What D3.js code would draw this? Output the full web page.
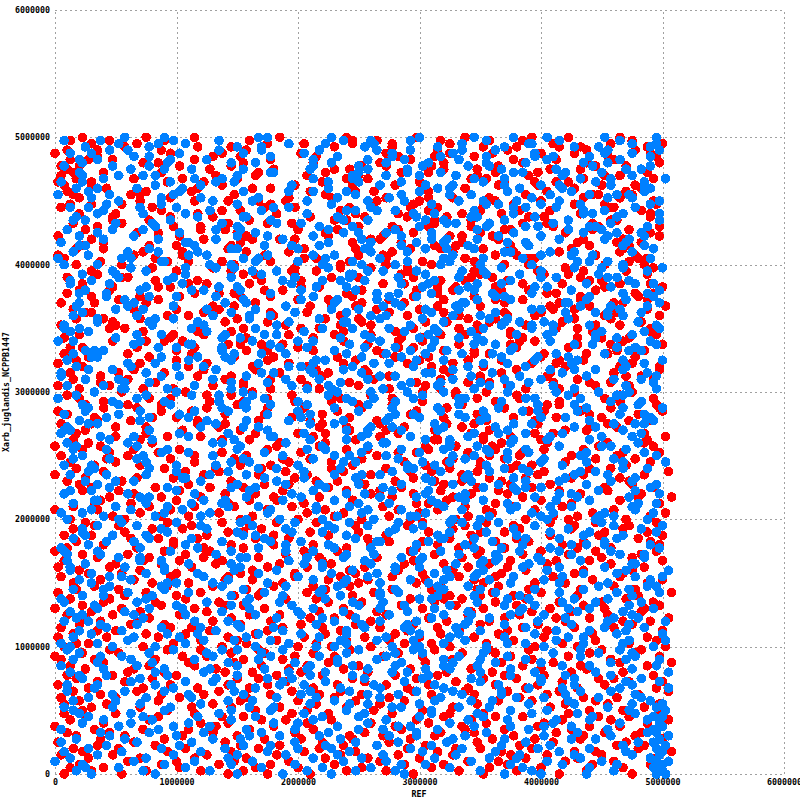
<!DOCTYPE html>
<meta charset="utf-8">
<style>
body { margin: 0; background: #fff; }
text { font: bold 8.3px "DejaVu Sans Mono", monospace; fill: #000; }
.axis line { stroke: #a0a0a0; stroke-dasharray: 2,3; shape-rendering: crispEdges; }
.dots circle { shape-rendering: crispEdges; }
</style>
<svg width="800" height="800"></svg>
<script src="https://d3js.org/d3.v7.min.js"></script>
<script>

var xTicks = [0, 1000000, 2000000, 3000000, 4000000, 5000000, 6000000];
var yTicks = [0, 1000000, 2000000, 3000000, 4000000, 5000000, 6000000];
var xTitle = "REF";
var yTitle = "Xarb_juglandis_NCPPB1447";

// one row per 25 kb of the y axis (row 0 = 0), values are x positions in 25 kb units
var step = 25000;

var redRows = [
  [3,118,57,190,84,141,22,201,166,70],[96,12,175,48,133,62,199,109,30,152],[187,41,5,124,80,160,101,16,143,66],
  [54,149,92,8,177,115,35,196,71,128],[136,24,168,77,0,107,59,184,146,40],[11,89,198,63,120,155,28,172,46,103],
  [162,50,131,2,94,19,180,73,113,150],[37,178,82,147,58,126,9,203,99,171],[116,67,21,192,140,43,87,157,6,132],
  [74,153,106,33,185,14,122,61,194,95],[1,129,45,164,88,110,188,26,139,56],[173,98,15,144,69,36,200,117,81,158],
  [42,191,125,60,7,151,97,174,23,108],[138,18,79,181,52,102,165,4,127,193],[64,114,170,29,148,85,13,197,44,135],
  [186,53,93,134,0,159,72,39,112,176],[25,161,57,104,195,16,142,83,123,48],[119,5,183,68,137,91,31,167,202,76],
  [55,145,34,100,10,179,128,62,154,189],[90,199,111,20,169,46,78,141,3,130],[9,66,150,187,37,105,121,176,83,201],
  [143,28,96,58,163,12,194,74,131,45],[107,182,3,139,86,52,120,17,168,199],[61,34,157,115,196,80,8,146,99,178],
  [174,92,20,127,63,185,41,153,110,2],[35,138,71,192,15,101,162,49,124,87],[118,6,166,54,149,27,94,202,78,135],
  [198,47,85,11,116,172,64,136,29,155],[70,159,123,38,181,93,1,109,145,57],[14,102,189,76,43,132,167,23,200,89],
  [152,60,32,179,98,7,141,119,67,184],[40,197,112,148,19,73,161,88,126,4],[129,24,81,56,170,103,187,36,144,65],
  [95,175,10,137,53,190,117,77,26,160],[5,83,154,100,31,68,128,195,46,173],[186,122,44,16,147,90,59,164,114,203],
  [62,13,140,183,75,106,33,157,2,131],[108,169,50,92,0,121,199,42,79,150],[21,145,85,113,191,58,9,176,134,69],
  [156,37,193,67,125,18,97,143,48,180],
  // 1 Mb
  [80,3,130,172,55,104,29,201,158,91],[11,115,63,189,142,39,86,167,7,124],[198,48,96,24,151,73,178,110,135,60],
  [34,161,1,120,82,195,57,138,17,102],[146,89,177,43,112,6,66,185,127,30],[70,20,133,94,162,51,200,14,149,116],
  [184,107,38,154,75,126,2,171,88,45],[25,140,190,61,8,99,159,36,118,81],[129,52,15,168,104,187,71,143,27,196],
  [92,176,123,31,148,58,10,165,84,202],[4,64,109,182,41,136,153,19,97,74],[157,28,87,137,193,12,116,50,170,106],
  [46,194,69,22,121,163,95,0,141,181],[114,9,152,78,35,199,132,62,174,56],[180,101,33,166,90,16,125,145,54,197],
  [18,134,76,117,5,155,43,188,86,128],[140,59,192,40,172,98,130,23,67,151],[68,1,113,160,83,48,203,144,105,30],
  [173,124,21,89,139,191,63,7,156,111],[37,85,184,127,13,72,146,97,179,52],[100,158,44,6,195,119,32,168,75,141],
  [200,26,138,65,103,15,177,90,56,122],[57,145,94,186,38,164,2,133,111,79],[11,79,171,22,147,61,121,187,40,99],
  [131,190,60,113,8,97,155,28,174,65],[83,18,102,149,194,45,70,136,1,166],[162,115,35,74,128,183,20,91,53,143],
  [29,176,88,200,55,3,150,118,165,41],[106,49,159,14,87,134,190,67,31,180],[193,139,9,125,43,169,76,105,154,24],
  [51,93,178,36,160,117,0,140,82,198],[148,4,119,62,183,27,96,172,49,133],[16,167,72,104,137,199,39,58,126,85],
  [121,39,196,145,17,81,156,110,7,174],[77,130,25,185,66,152,103,34,192,47],[3,109,163,50,90,12,137,179,72,200],
  [181,57,84,123,148,195,23,100,140,62],[42,153,6,170,32,112,187,68,131,92],[135,21,99,64,189,45,151,13,116,171],
  [86,198,142,10,121,73,163,37,55,178],
  // 2 Mb
  [23,117,61,188,101,155,5,132,80,169],[164,44,136,92,19,172,65,196,110,35],[2,95,177,54,144,120,28,83,157,201],
  [126,70,14,158,38,89,184,113,0,142],[59,190,108,31,167,6,135,78,151,46],[145,13,82,123,199,57,100,170,25,119],
  [98,160,40,73,129,186,15,141,64,176],[18,131,192,48,87,111,154,35,203,72],[173,66,3,149,104,26,193,118,56,137],
  [41,182,96,21,166,75,127,9,146,107],[114,33,157,139,51,197,62,90,181,12],[69,150,8,102,175,128,44,163,77,190],
  [189,86,125,58,22,147,112,4,134,93],[27,10,170,79,118,186,39,143,100,155],[134,104,49,194,67,0,159,83,30,174],
  [76,161,117,16,139,95,202,54,124,43],[7,53,183,130,91,176,36,109,150,68],[152,122,28,71,157,13,98,188,61,140],
  [91,196,140,46,5,115,168,77,20,129],[38,75,101,178,148,59,131,17,191,84],[170,143,63,24,106,185,2,153,92,46],
  [55,18,154,119,187,34,81,136,113,199],[123,96,9,161,41,70,174,103,145,26],[0,179,132,87,61,144,122,197,15,73],
  [194,32,74,147,11,108,52,162,182,89],[64,126,195,55,99,160,28,125,6,141],[141,48,20,107,180,85,150,37,117,201],
  [30,164,89,137,7,194,66,113,80,158],[109,3,168,42,125,61,143,10,175,97],[185,87,115,176,30,134,20,96,54,171],
  [47,138,56,12,88,182,107,159,129,2],[158,25,106,142,67,14,189,47,84,196],[13,180,40,97,151,120,78,32,165,128],
  [117,69,192,21,112,176,4,139,56,88],[80,156,1,173,45,93,161,119,200,35],[199,101,129,82,183,27,50,70,148,16],
  [35,10,166,134,60,100,198,162,24,111],[166,145,79,51,16,147,121,91,186,62],[94,197,38,111,153,70,31,181,8,139],
  [50,78,152,186,92,4,169,58,132,104],
  // 3 Mb
  [132,22,91,43,171,121,142,13,190,65],[8,166,127,71,198,39,87,110,155,29],[178,52,18,149,100,83,189,62,122,1],
  [62,119,183,33,136,164,15,176,97,143],[105,6,71,197,24,127,56,140,81,172],[15,188,140,88,58,110,193,35,162,47],
  [147,36,103,163,5,74,130,21,90,184],[86,128,49,26,178,152,66,102,199,11],[199,65,168,118,83,9,141,186,44,124],
  [28,95,1,157,131,190,50,77,116,165],[120,174,136,70,40,99,166,7,147,58],[72,11,112,191,14,59,123,160,31,93],
  [161,143,45,96,175,138,24,108,182,3],[40,63,185,128,106,16,194,85,138,70],[191,113,27,5,152,80,46,169,9,118],
  [57,183,75,150,68,172,103,133,61,200],[113,30,158,36,121,42,187,19,95,153],[3,85,121,172,189,114,63,154,180,38],
  [150,135,8,104,49,198,92,39,127,77],[95,47,196,139,29,150,11,177,58,112],[18,172,62,81,165,23,133,118,196,87],
  [139,104,178,20,94,186,76,2,155,47],[70,193,31,143,129,56,122,167,19,101],[183,16,100,60,7,136,171,89,145,28],
  [44,149,133,116,181,94,37,199,72,158],[128,83,49,12,148,71,160,10,110,185],[6,120,164,195,40,106,26,133,171,54],
  [163,59,91,99,126,176,201,52,84,140],[101,187,13,148,66,2,115,184,30,166],[21,34,128,173,110,145,80,154,195,90],
  [173,98,71,28,192,41,138,12,118,61],[54,162,197,126,59,165,96,191,46,4],[119,8,147,69,18,101,178,75,156,131],
  [81,126,38,181,87,132,19,145,34,200],[196,50,115,44,167,64,154,108,186,9],[33,176,81,135,5,180,47,127,68,149],
  [144,91,4,97,137,24,118,173,100,22],[66,140,169,14,79,195,62,20,161,114],[12,116,58,159,188,86,174,138,40,78],
  [180,25,104,79,52,116,32,94,197,168],
  // 4 Mb
  [94,156,22,194,124,7,148,59,109,181],[37,71,138,55,176,97,121,189,15,44],[156,192,86,109,33,158,3,82,135,195],
  [108,1,178,145,100,69,191,42,26,152],[24,131,42,63,151,29,111,166,186,77],[187,82,117,170,16,141,57,99,7,127],
  [58,176,9,31,125,189,87,132,150,40],[134,44,155,98,193,61,16,172,114,185],[79,107,65,187,74,12,174,146,49,104],
  [1,144,199,130,41,108,134,63,182,90],[168,60,27,89,140,168,34,118,196,14],[113,189,148,48,10,93,150,80,56,177],
  [48,14,111,164,179,39,123,199,100,137],[154,125,78,22,57,177,6,162,143,70],[92,169,183,137,96,125,64,31,185,19],
  [19,38,52,116,156,84,196,102,129,161],[196,99,134,73,20,47,147,173,8,113],[61,153,16,193,123,163,94,55,140,35],
  [126,2,97,155,69,32,184,117,183,79],[5,118,171,12,181,141,71,22,151,198],[145,76,57,106,46,120,197,160,67,28],
  [77,186,123,38,143,8,109,91,174,131],[177,28,6,179,89,155,59,137,25,190],[30,105,162,84,4,188,123,45,99,149],
  [121,167,47,122,171,71,17,193,135,65],[3,55,191,146,112,98,159,79,12,180],[165,12,88,1,148,169,37,120,158,49],
  [42,137,142,197,60,26,103,174,7,96],[100,181,2,66,132,186,53,156,83,139],[6,89,123,159,35,114,195,16,145,67],
  [188,4,173,97,92,139,72,128,51,163],[2,146,58,109,188,8,41,178,101,124],[9,62,107,29,154,175,128,85,199,34],
  [133,5,19,184,71,117,151,46,165,11],[52,113,198,138,14,61,93,182,125,86],[171,0,81,55,109,160,196,130,38,144],
  [14,149,35,175,126,4,87,63,191,117],[111,195,166,92,47,141,173,23,152,58],[82,27,130,12,183,98,111,164,70,200],
  [143,98,5,127,64,190,36,154,106,18],[30,186,157,74,119,46,169,9,96,135]
];

var blueRows = [
  [12,60,148,198,33,91,175,115,201,75,160],[140,29,83,200,112,51,184,7,157,99],[68,197,21,130,176,43,104,154,88,10,199],
  [185,114,58,9,150,79,200,36,122,167],[26,162,95,137,198,65,0,109,180,46,202],[101,5,173,57,125,143,85,196,30,152],
  [153,76,39,190,14,108,132,60,199,93,171],[48,121,166,97,200,22,145,70,188,3],[176,35,91,11,134,198,56,159,117,80],
  [89,147,17,124,71,187,106,41,201,163,62],[2,99,192,155,45,129,79,27,197,113],[131,61,23,178,94,7,148,199,52,170],
  [64,183,110,40,161,135,18,87,202,119,74],[195,15,142,119,68,90,172,49,198,31],[34,108,79,2,156,197,126,63,182,100],
  [117,170,51,138,21,113,200,93,39,150,161],[80,9,186,72,103,164,44,130,199,25],[165,136,32,195,58,16,85,176,109,149],
  [11,88,120,47,177,141,197,66,29,200,100],[139,54,191,102,25,82,157,8,124,172],[58,124,6,162,96,150,36,189,201,71],
  [182,38,72,114,133,3,64,111,143,198,19],[97,156,103,28,190,48,120,171,84,200],[20,196,144,65,6,169,92,137,57,125],
  [127,73,11,179,45,107,152,30,193,86,161],[44,103,168,134,81,191,19,62,113,147],[173,23,59,97,147,119,4,84,183,36,131],
  [107,167,186,13,66,39,128,156,94,202],[33,82,125,146,4,171,58,105,14,190,74],[188,140,43,75,115,89,199,25,160,52],
  [70,9,160,28,193,53,137,78,121,171,102],[150,183,84,123,37,8,98,168,60,17],[5,116,33,158,89,140,178,49,202,111,77],
  [122,51,190,69,16,103,150,130,83,36],[84,176,98,2,128,167,27,60,139,198,112],[160,32,131,57,183,79,14,114,93,145],
  [25,93,199,140,106,155,67,46,188,6,128],[109,149,15,87,52,133,191,22,71,173],[190,68,112,31,164,8,96,141,121,50,179],
  [55,4,142,173,75,118,39,186,60,100],
  // 1 Mb
  [142,120,66,19,197,92,161,5,86,33,111],[2,187,96,149,43,128,77,174,14,155],[118,59,24,106,165,135,189,71,49,201,94],
  [169,87,174,41,6,63,148,109,26,130],[47,12,133,200,81,158,37,185,120,96,67],[96,165,75,117,53,22,188,140,8,176],
  [181,132,35,61,102,194,72,115,155,17,48],[15,101,189,148,135,86,27,60,170,116],[136,46,107,11,182,57,119,159,201,92,3],
  [73,192,143,88,29,168,99,7,124,184],[110,26,161,128,66,43,137,190,81,9,150],[187,80,5,172,116,95,23,153,55,136],
  [31,154,85,197,42,125,176,64,14,107,169],[148,115,58,13,158,189,100,40,130,78],[63,3,178,108,74,139,27,167,98,193,50],
  [124,171,30,149,2,64,120,89,156,182],[9,94,126,190,153,32,75,107,16,138,58],[166,44,113,69,185,107,145,24,199,87],
  [88,140,16,36,128,174,6,158,62,112,189],[198,76,179,126,93,55,35,195,136,18],[40,107,52,166,12,95,150,70,182,123,37],
  [128,196,96,85,161,8,117,143,25,57],[22,18,138,151,49,130,191,80,103,167,200],[174,125,67,30,106,185,47,12,139,91],
  [59,162,188,112,141,73,5,129,202,36,98],[112,36,5,181,23,154,88,166,120,61],[191,88,156,58,82,10,140,44,190,104,132],
  [35,145,120,141,173,102,28,77,4,160],[146,61,28,95,121,194,63,114,159,83,21],[4,105,170,194,53,133,15,186,96,145],
  [85,153,76,14,183,38,118,58,166,127,3],[163,2,138,104,67,147,199,92,28,47],[119,181,43,170,11,90,135,175,76,154,196],
  [17,71,106,55,144,26,81,123,181,107],[155,127,185,128,99,166,6,45,69,138,31],[66,30,62,10,187,126,152,96,19,174],
  [198,176,110,142,37,60,78,163,130,9,88],[92,50,193,76,118,9,169,35,151,112],[27,139,14,158,90,184,48,103,200,65,121],
  [134,97,130,40,61,113,146,180,22,79],
  // 2 Mb
  [74,21,162,88,195,131,4,63,140,178,105],[179,117,48,184,119,16,93,33,160,143],[9,164,101,2,51,157,181,122,70,197,36],
  [103,86,191,134,25,71,42,150,114,12],[152,37,67,163,97,190,128,20,86,170,57],[45,192,126,100,149,6,55,110,198,30],
  [124,56,14,49,176,141,92,165,13,75,135],[28,133,172,119,81,31,107,189,63,158],[170,3,102,78,135,166,46,24,122,96,199],
  [64,111,40,191,12,123,179,85,152,5],[196,151,155,58,160,89,18,141,37,108,66],[14,76,87,146,114,60,131,198,100,175],
  [137,190,20,26,183,166,73,10,48,155,124],[82,43,135,168,42,99,151,122,191,69],[51,101,63,107,5,182,30,171,136,92,17],
  [156,173,178,82,127,143,11,57,111,40],[31,13,118,154,94,73,195,67,148,116,187],[116,125,53,12,167,116,40,142,80,3],
  [187,64,95,130,30,201,160,99,58,175,121],[6,184,149,62,113,18,85,135,27,161],[97,138,29,92,52,131,173,109,198,9,75],
  [149,35,194,175,143,69,44,156,120,101],[60,114,128,17,89,155,6,188,83,37,142],[183,88,7,139,180,103,61,27,166,130],
  [24,55,150,52,108,192,130,76,4,109,192],[130,162,96,122,32,84,176,151,59,18],[71,26,180,190,72,15,117,136,101,163,44],
  [167,146,41,103,155,138,57,193,82,2],[3,103,126,5,126,96,149,31,187,70,114],[111,178,67,171,48,62,4,104,145,128],
  [191,11,151,84,194,184,125,157,14,92,53],[50,77,8,140,95,28,176,63,109,197],[142,196,110,31,17,160,81,135,44,168,120],
  [84,41,186,118,133,112,21,194,70,3],[10,127,57,159,80,46,141,100,172,154,28],[175,92,146,11,55,187,63,111,126,200],
  [103,159,21,71,171,9,38,83,192,133,62],[36,63,98,193,112,147,183,19,54,80],[158,1,133,135,27,96,105,69,155,173,118],
  [65,185,45,54,187,169,30,121,90,7],
  // 3 Mb
  [189,116,179,104,13,62,128,149,40,93,165],[23,37,83,22,91,138,171,108,58,198],[126,150,16,164,143,78,4,46,188,114,90],
  [58,94,117,70,127,31,156,197,23,140],[160,21,193,148,52,103,87,131,10,184,76],[107,175,137,35,198,2,112,153,63,41],
  [2,68,72,124,85,167,144,30,101,122,195],[171,131,187,11,163,95,19,53,178,84],[40,25,98,188,118,77,136,81,155,7,49],
  [141,105,149,85,33,194,67,110,24,170],[86,187,4,44,158,119,89,172,128,58,200],[12,56,169,159,101,47,14,35,147,114],
  [122,144,109,59,76,181,134,165,96,6,68],[193,10,129,117,13,16,92,55,189,150],[55,83,34,191,124,151,185,74,112,40,102],
  [145,177,71,97,45,171,44,198,26,138],[28,6,196,65,107,85,125,163,141,1,80],[178,120,55,139,185,20,61,104,133,94],
  [69,162,123,27,152,102,178,35,73,56,190],[115,50,11,180,82,194,137,126,5,164],[3,199,98,110,141,66,8,88,157,125,45],
  [157,73,164,49,3,147,198,32,176,117],[95,148,31,153,96,128,47,161,14,77,192],[39,14,143,87,169,33,107,121,149,64],
  [182,109,64,6,52,187,140,71,104,131,27],[79,168,182,178,124,58,9,193,145,96],[133,29,91,122,186,100,160,66,20,157,50],
  [24,195,108,39,76,173,114,132,183,7],[168,135,26,169,63,8,134,92,56,112,199],[62,81,175,93,150,106,62,23,139,188],
  [110,40,53,145,119,176,17,85,197,31,148],[187,113,8,17,106,195,157,124,71,144],[45,61,133,138,170,28,99,199,49,10,81],
  [136,158,86,60,30,121,183,54,162,96],[78,18,197,191,147,139,42,114,5,175,123],[5,94,102,125,12,75,150,189,88,37],
  [165,185,39,79,160,58,21,133,113,97,182],[98,122,153,20,97,179,68,9,142,43],[19,141,65,103,195,134,119,160,73,30,108],
  [147,53,187,180,43,90,200,25,171,59],
  // 4 Mb
  [58,3,112,127,140,14,88,51,157,187,101],[176,130,80,36,172,66,116,182,98,35],[89,67,22,154,25,141,1,107,196,128,62],
  [11,170,160,92,131,50,85,44,70,177],[150,104,47,6,190,116,148,171,24,163,34],[102,197,138,197,58,80,31,129,60,122],
  [187,46,8,69,114,156,78,194,136,10,87],[44,119,128,149,2,104,43,90,155,188],[124,75,181,34,166,189,129,16,53,101,139],
  [70,182,60,114,85,26,160,146,194,8],[193,14,100,185,151,95,66,124,41,174,109],[29,90,169,53,19,139,112,4,180,61],
  [159,155,33,98,178,60,195,176,87,120,142],[81,32,143,129,73,183,20,55,132,164],[6,128,71,10,122,169,148,103,199,38,95],
  [139,62,185,158,47,7,93,137,63,119],[43,174,118,83,199,125,177,29,151,187,14],[181,99,16,112,96,51,68,174,106,138],
  [104,11,155,40,165,151,5,72,191,77,28],[17,146,91,173,60,196,124,142,35,160],[152,103,52,141,133,21,83,115,199,166,65],
  [67,35,190,67,182,110,157,48,93,12],[114,189,130,18,1,163,137,99,185,176,39],[194,77,11,96,149,85,41,170,62,120],
  [27,42,167,196,126,194,153,14,130,7,90],[148,160,48,131,33,107,122,183,78,166],[53,2,100,59,178,141,9,90,114,38,194],
  [98,183,148,85,16,55,173,46,201,138],[9,120,33,167,109,29,98,190,60,132,21],[168,71,72,100,151,180,127,8,116,154],
  [116,147,193,25,62,103,45,165,188,84,36],[31,3,136,177,121,196,85,143,19,100],[174,91,58,142,9,37,155,123,66,182,109],
  [85,38,115,8,186,133,162,50,103,14],[142,164,26,111,93,71,176,31,196,127,158],[12,111,181,62,41,190,131,82,158,5],
  [182,54,87,134,145,18,117,199,68,106,24],[60,126,31,196,102,68,179,148,10,171],[105,198,156,43,21,157,89,34,134,190,77],
  [39,15,104,166,142,117,3,186,54,95],[151,181,70,91,120,36,162,138,198,23,67]
];

var svg = d3.select("svg");

var x = d3.scaleLinear().domain([0, 6000000]).range([55, 784]);
var y = d3.scaleLinear().domain([0, 6000000]).range([774, 10]);

function toPoints(rows) {
  var pts = [];
  rows.forEach(function(row, i) {
    row.forEach(function(v) { pts.push([v * step, i * step]); });
  });
  return pts;
}

// dashed grid doubles as the axes
svg.append("g")
    .attr("class", "axis")
    .attr("transform", "translate(0,774)")
    .call(d3.axisBottom(x).tickValues(xTicks).tickSize(-(774 - 10)).tickPadding(5).tickFormat(d3.format("d")));

svg.append("g")
    .attr("class", "axis")
    .attr("transform", "translate(55,0)")
    .call(d3.axisLeft(y).tickValues(yTicks).tickSize(-(784 - 55)).tickPadding(5).tickFormat(d3.format("d")));

svg.selectAll(".axis .domain").remove();
svg.selectAll(".axis text").attr("font-family", null).attr("font-size", null).attr("fill", "#000");

svg.append("g")
    .attr("class", "dots")
    .selectAll("circle")
    .data(toPoints(redRows))
    .join("circle")
      .attr("cx", function(d) { return x(d[0]); })
      .attr("cy", function(d) { return y(d[1]); })
      .attr("r", 4.8)
      .attr("fill", "#ff0000");

svg.append("g")
    .attr("class", "dots")
    .selectAll("circle")
    .data(toPoints(blueRows))
    .join("circle")
      .attr("cx", function(d) { return x(d[0]); })
      .attr("cy", function(d) { return y(d[1]); })
      .attr("r", 4.8)
      .attr("fill", "#0080ff");

svg.append("text")
    .attr("x", 419)
    .attr("y", 797)
    .attr("text-anchor", "middle")
    .text(xTitle);

svg.append("text")
    .attr("transform", "translate(9,392) rotate(-90)")
    .attr("text-anchor", "middle")
    .text(yTitle);

</script>
